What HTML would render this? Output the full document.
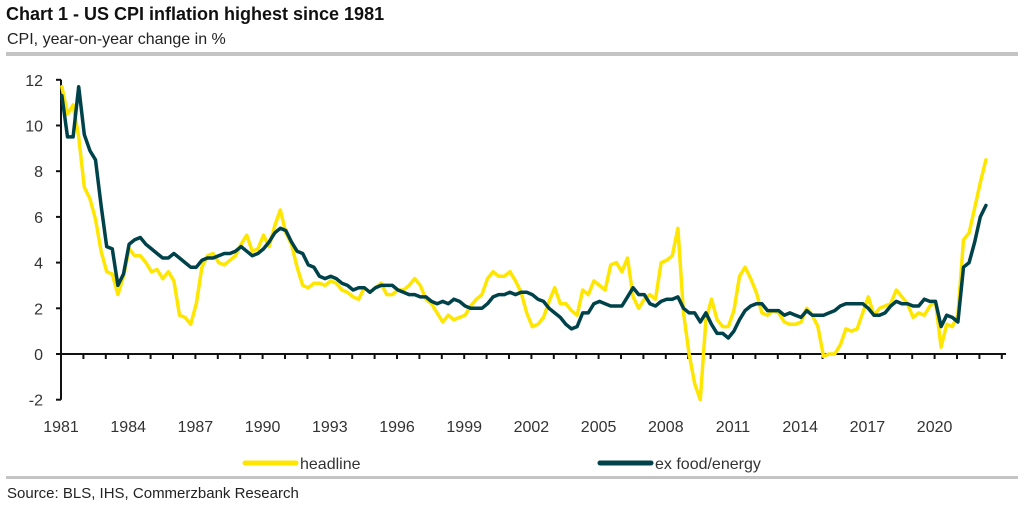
<!DOCTYPE html>
<html><head><meta charset="utf-8"><style>
body{margin:0;background:#fff;width:1024px;height:506px;overflow:hidden;font-family:"Liberation Sans",sans-serif}
</style></head><body>
<svg width="1024" height="506" viewBox="0 0 1024 506" xmlns="http://www.w3.org/2000/svg">
<text x="6" y="20" font-size="18" font-weight="bold" fill="#111">Chart 1 - US CPI inflation highest since 1981</text>
<text x="7" y="44" font-size="16" fill="#222">CPI, year-on-year change in %</text>
<rect x="6" y="52" width="1012" height="4" fill="#c4c4c4"/>
<g id="axes"></g>
<g id="series"></g>
<line x1="245" y1="463" x2="296" y2="463" stroke="#FFE600" stroke-width="5" stroke-linecap="round"/>
<text x="300" y="469" font-size="16" fill="#333">headline</text>
<line x1="600" y1="463" x2="651" y2="463" stroke="#00424A" stroke-width="5" stroke-linecap="round"/>
<text x="655" y="469" font-size="16" fill="#333">ex food/energy</text>
<rect x="6" y="476" width="1012" height="3" fill="#c4c4c4"/>
<text x="7" y="498" font-size="15" fill="#222">Source: BLS, IHS, Commerzbank Research</text>
</svg>
<script>
const startYear = 1981;
const yTicks = [12,10,8,6,4,2,0,-2];
const xLabels = [1981,1984,1987,1990,1993,1996,1999,2002,2005,2008,2011,2014,2017,2020];
const headline = [11.7,10.5,10.9,9.5, 7.3,6.8,5.9,4.5, 3.6,3.5,2.6,3.4, 4.6,4.3,4.3,4.0, 3.6,3.7,3.3,3.6, 3.2,1.7,1.6,1.3,
 2.2,3.8,4.3,4.4, 4.0,3.9,4.1,4.3, 4.8,5.2,4.5,4.6, 5.2,4.7,5.6,6.3, 5.3,4.8,3.8,3.0, 2.9,3.1,3.1,3.0,
 3.2,3.1,2.8,2.7, 2.5,2.4,2.9,2.7, 2.9,3.1,2.6,2.6, 2.8,2.8,3.0,3.3, 3.0,2.4,2.2,1.8, 1.4,1.7,1.5,1.6,
 1.7,2.1,2.4,2.6, 3.3,3.6,3.4,3.4, 3.6,3.2,2.7,1.8, 1.2,1.3,1.6,2.3, 2.9,2.2,2.2,1.9, 1.7,2.8,2.6,3.2,
 3.0,2.8,3.9,4.0, 3.6,4.2,2.5,2.0, 2.4,2.6,2.4,4.0, 4.1,4.3,5.5,1.8, 0.0,-1.3,-2.0,1.5, 2.4,1.5,1.2,1.2,
 1.9,3.4,3.8,3.3, 2.7,1.8,1.7,1.9, 1.8,1.4,1.3,1.3, 1.4,2.0,1.7,1.2, -0.1,0.0,0.0,0.4, 1.1,1.0,1.1,1.8,
 2.5,1.7,2.0,2.1, 2.2,2.8,2.5,2.2, 1.6,1.8,1.7,2.1, 2.3,0.3,1.3,1.2, 1.7,5.0,5.3,6.4, 7.5,8.5];
const core = [11.3,9.5,9.5,11.7, 9.6,8.9,8.5,6.5, 4.7,4.6,3.0,3.5, 4.8,5.0,5.1,4.8, 4.6,4.4,4.2,4.2, 4.4,4.2,4.0,3.8,
 3.8,4.1,4.2,4.2, 4.3,4.4,4.4,4.5, 4.7,4.5,4.3,4.4, 4.6,4.9,5.3,5.5, 5.4,4.9,4.5,4.4, 3.9,3.8,3.4,3.3,
 3.4,3.3,3.1,3.0, 2.8,2.9,2.9,2.7, 2.9,3.0,3.0,3.0, 2.8,2.7,2.6,2.6, 2.5,2.5,2.3,2.2, 2.3,2.2,2.4,2.3,
 2.1,2.0,2.0,2.0, 2.2,2.5,2.6,2.6, 2.7,2.6,2.7,2.7, 2.6,2.4,2.3,2.0, 1.8,1.6,1.3,1.1, 1.2,1.8,1.8,2.2,
 2.3,2.2,2.1,2.1, 2.1,2.5,2.9,2.6, 2.6,2.2,2.1,2.3, 2.4,2.4,2.5,2.0, 1.8,1.8,1.4,1.8, 1.3,0.9,0.9,0.7,
 1.0,1.5,1.9,2.1, 2.2,2.2,1.9,1.9, 1.9,1.7,1.8,1.7, 1.6,1.9,1.7,1.7, 1.7,1.8,1.9,2.1, 2.2,2.2,2.2,2.2,
 2.0,1.7,1.7,1.8, 2.1,2.3,2.2,2.2, 2.1,2.1,2.4,2.3, 2.3,1.2,1.7,1.6, 1.4,3.8,4.0,4.9, 6.0,6.5];

const NS="http://www.w3.org/2000/svg";
const X0=61, PXY=22.4, Y0=354, PXU=22.85;
function xs(t){return X0+(t-startYear)*PXY;}
function ys(v){return Y0-v*PXU;}
function mk(tag,attrs,parent){const e=document.createElementNS(NS,tag);for(const k in attrs)e.setAttribute(k,attrs[k]);parent.appendChild(e);return e;}
const ax=document.getElementById('axes');
let e=mk('line',{x1:X0,y1:ys(12),x2:X0,y2:ys(-2),stroke:'#111','stroke-width':2},ax);


e=mk('line',{x1:X0,y1:Y0,x2:1006,y2:Y0,stroke:'#111','stroke-width':2},ax);


yTicks.forEach(v=>{
 mk('line',{x1:X0-5,y1:ys(v),x2:X0,y2:ys(v),stroke:'#111','stroke-width':2},ax);
 const t=mk('text',{x:43,y:ys(v)+6,'font-size':16,fill:'#333','text-anchor':'end'},ax);t.textContent=v;
 
 
});
for(let y=startYear+1;y<=2023;y++){mk('line',{x1:xs(y),y1:Y0,x2:xs(y),y2:Y0+5,stroke:'#111','stroke-width':2},ax);}
xLabels.forEach(y=>{
 const t=mk('text',{x:xs(y),y:432,'font-size':16,fill:'#333','text-anchor':'middle'},ax);t.textContent=y;
 
 
});
const sg=document.getElementById('series');
function line(arr,color,w,name){
 const d=arr.map((v,i)=>(i?'L':'M')+xs(startYear+i*0.25+0.04).toFixed(1)+' '+ys(v).toFixed(1)).join(' ');
 const p=mk('path',{d:d,fill:'none',stroke:color,'stroke-width':w,'stroke-linejoin':'round','stroke-linecap':'round'},sg);
 
 
}
line(headline,'#FFE600',3.5,'headline-line');
line(core,'#00424A',3.5,'ex-food-energy-line');
</script>
</body></html>
